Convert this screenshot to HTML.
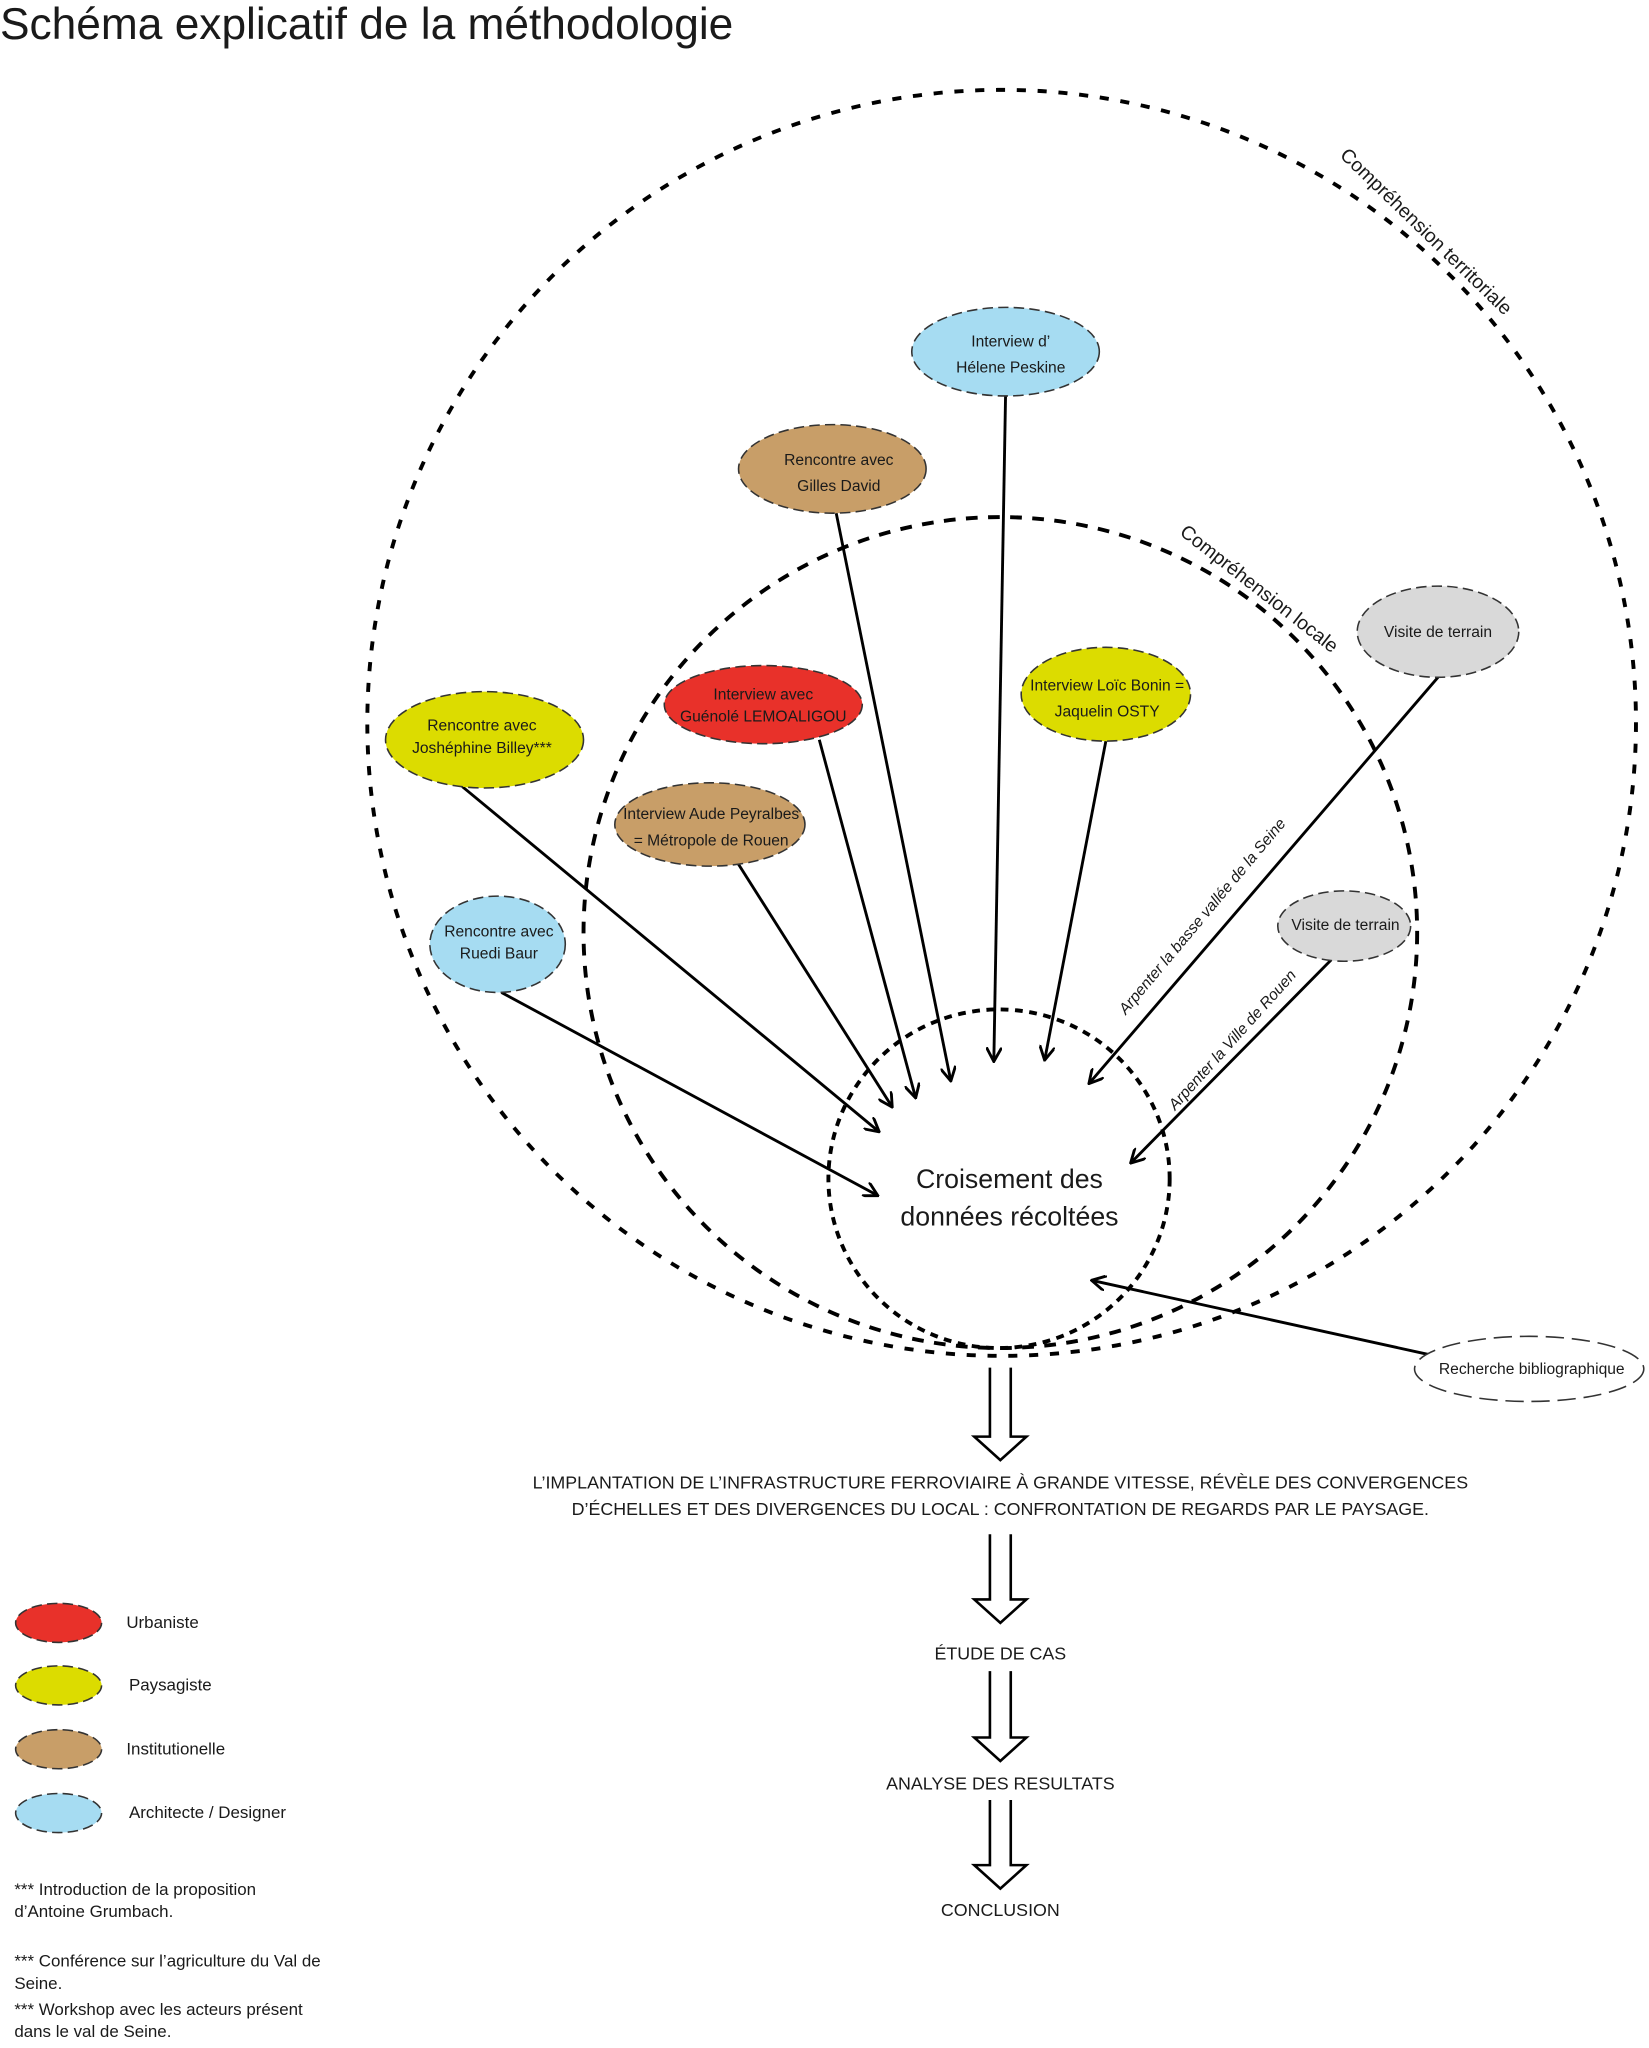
<!DOCTYPE html>
<html><head><meta charset="utf-8"><style>
html,body{margin:0;padding:0;background:#fff}
svg{display:block}
text{font-family:"Liberation Sans",sans-serif;fill:#1a1a1a}
.n{font-family:"Liberation Sans Narrow","Liberation Sans",sans-serif;font-size:12px;text-anchor:middle}
</style></head><body>
<svg width="1649" height="2048" viewBox="0 0 1266 1572.4" preserveAspectRatio="none" xmlns="http://www.w3.org/2000/svg">
<defs>
<marker id="a" viewBox="0 0 12 12" refX="11" refY="6" markerWidth="12" markerHeight="12" markerUnits="userSpaceOnUse" orient="auto">
<path d="M0,0 L11,6 L0,12" fill="none" stroke="#000" stroke-width="2.2"/>
</marker>
</defs>
<text x="0" y="30" font-size="34">Schéma explicatif de la méthodologie</text>

<g fill="none" stroke="#000" stroke-width="3" stroke-dasharray="7 9">
<ellipse cx="769" cy="555" rx="487" ry="486"/>
<ellipse cx="768" cy="716" rx="320" ry="319" stroke-dasharray="9 8"/>
<ellipse cx="767" cy="905" rx="131" ry="130" stroke-dasharray="6 5"/>
</g>

<text font-size="15" transform="translate(1028,120) rotate(44)">Compréhension territoriale</text>
<text font-size="15" transform="translate(905,410) rotate(38)">Compréhension locale</text>

<g stroke="#000" stroke-width="2.2" marker-end="url(#a)">
<line x1="772" y1="304" x2="763" y2="815"/>
<line x1="642" y1="394" x2="730" y2="830"/>
<line x1="629" y1="568" x2="703" y2="843"/>
<line x1="566" y1="662" x2="685" y2="850"/>
<line x1="355" y1="604" x2="675" y2="869"/>
<line x1="385" y1="762" x2="674" y2="918"/>
<line x1="849" y1="569" x2="802" y2="814"/>
<line x1="1104" y1="520" x2="836" y2="832"/>
<line x1="1022" y1="737" x2="868" y2="893"/>
<line x1="1097" y1="1040" x2="838" y2="983"/>
</g>
<text class="n" font-size="10.5" font-style="italic" transform="translate(926,706) rotate(-50)">Arpenter la basse vallée de la Seine</text>
<text class="n" font-size="10.5" font-style="italic" transform="translate(949,801) rotate(-48)">Arpenter la Ville de Rouen</text>

<g stroke="#333" stroke-width="1.2" stroke-dasharray="8 4">
<ellipse cx="772" cy="270" rx="72" ry="34" fill="#a6dcf2"/>
<ellipse cx="639" cy="360" rx="72" ry="34" fill="#c89e68"/>
<ellipse cx="1104" cy="485" rx="62" ry="35" fill="#d9d9d9"/>
<ellipse cx="849" cy="533" rx="65" ry="36" fill="#dcdc00"/>
<ellipse cx="586" cy="541" rx="76" ry="30" fill="#e8312a"/>
<ellipse cx="372" cy="568" rx="76" ry="37" fill="#dcdc00"/>
<ellipse cx="545" cy="633" rx="73" ry="32" fill="#c89e68"/>
<ellipse cx="382" cy="725" rx="52" ry="37" fill="#a6dcf2"/>
<ellipse cx="1032" cy="711" rx="51" ry="27" fill="#d9d9d9"/>
<ellipse cx="1174" cy="1051" rx="88" ry="25" fill="#fff" stroke-dasharray="14 6"/>
</g>
<text class="n" x="776" y="266">Interview d’</text>
<text class="n" x="776" y="286">Hélene Peskine</text>
<text class="n" x="644" y="357" font-size="14">Rencontre avec</text>
<text class="n" x="644" y="377" font-size="14">Gilles David</text>
<text class="n" x="1104" y="489">Visite de terrain</text>
<text class="n" x="850" y="530" font-size="11">Interview Loïc Bonin =</text>
<text class="n" x="850" y="550">Jaquelin OSTY</text>
<text class="n" x="586" y="537">Interview avec</text>
<text class="n" x="586" y="554" font-size="11">Guénolé LEMOALIGOU</text>
<text class="n" x="370" y="561">Rencontre avec</text>
<text class="n" x="370" y="578">Joshéphine Billey***</text>
<text class="n" x="546" y="629" font-size="11">Interview Aude Peyralbes</text>
<text class="n" x="546" y="649" font-size="11">= Métropole de Rouen</text>
<text class="n" x="383" y="719">Rencontre avec</text>
<text class="n" x="383" y="736">Ruedi Baur</text>
<text class="n" x="1033" y="714" font-size="11.5">Visite de terrain</text>
<text class="n" x="1176" y="1055">Recherche bibliographique</text>

<text x="775" y="912" font-size="20.5" text-anchor="middle">Croisement des</text>
<text x="775" y="941" font-size="20.5" text-anchor="middle">données récoltées</text>

<g fill="#fff" stroke="#000" stroke-width="2">
<path d="M760,1050 V1103 H748 L768,1121 L788,1103 H776 V1050"/>
<path d="M760,1178 V1228 H748 L768,1246 L788,1228 H776 V1178"/>
<path d="M760,1283 V1334 H748 L768,1352 L788,1334 H776 V1283"/>
<path d="M760,1382 V1432 H748 L768,1450 L788,1432 H776 V1382"/>
</g>
<g font-size="13.7" text-anchor="middle">
<text x="768" y="1143">L’IMPLANTATION DE L’INFRASTRUCTURE FERROVIAIRE À GRANDE VITESSE, RÉVÈLE DES CONVERGENCES</text>
<text x="768" y="1163">D’ÉCHELLES ET DES DIVERGENCES DU LOCAL : CONFRONTATION DE REGARDS PAR LE PAYSAGE.</text>
<text x="768" y="1274">ÉTUDE DE CAS</text>
<text x="768" y="1374">ANALYSE DES RESULTATS</text>
<text x="768" y="1471">CONCLUSION</text>
</g>

<g stroke="#333" stroke-width="1.2" stroke-dasharray="8 4">
<ellipse cx="45" cy="1246" rx="33" ry="15" fill="#e8312a"/>
<ellipse cx="45" cy="1294" rx="33" ry="15" fill="#dcdc00"/>
<ellipse cx="45" cy="1343" rx="33" ry="15" fill="#c89e68"/>
<ellipse cx="45" cy="1392" rx="33" ry="15" fill="#a6dcf2"/>
</g>
<g font-size="13">
<text x="97" y="1250">Urbaniste</text>
<text x="99" y="1298">Paysagiste</text>
<text x="97" y="1347">Institutionelle</text>
<text x="99" y="1396">Architecte / Designer</text>
<text x="11" y="1455">*** Introduction de la proposition</text>
<text x="11" y="1472">d’Antoine Grumbach.</text>
<text x="11" y="1510">*** Conférence sur l’agriculture du Val de</text>
<text x="11" y="1527">Seine.</text>
<text x="11" y="1547">*** Workshop avec les acteurs présent</text>
<text x="11" y="1564">dans le val de Seine.</text>
</g>
</svg>
</body></html>
